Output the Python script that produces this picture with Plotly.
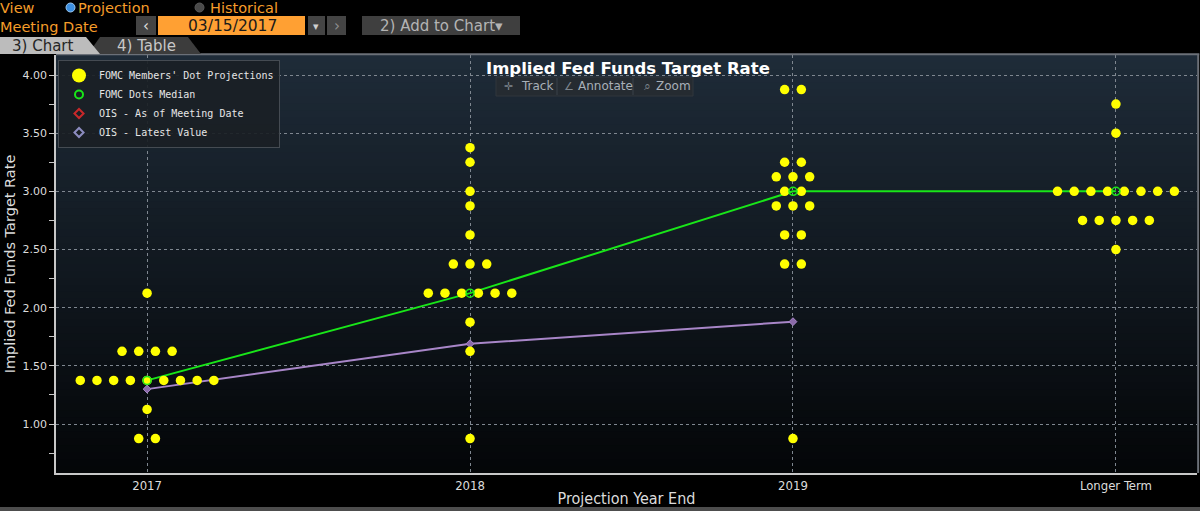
import numpy as np
import plotly.graph_objects as go

# ---------------- data ----------------
categories = ["2017", "2018", "2019", "Longer Term"]
dots_2017 = [2.125, 1.625, 1.625, 1.625, 1.625,
             1.375, 1.375, 1.375, 1.375, 1.375, 1.375, 1.375, 1.375, 1.375,
             1.125, 0.875, 0.875]
dots_2018 = [3.375, 3.25, 3.0, 2.875, 2.625, 2.375, 2.375, 2.375,
             2.125, 2.125, 2.125, 2.125, 2.125, 2.125, 1.875, 1.625, 0.875]
dots_2019 = [3.875, 3.875, 3.25, 3.25, 3.125, 3.125, 3.125, 3.0, 3.0,
             2.875, 2.875, 2.875, 2.625, 2.625, 2.375, 2.375, 0.875]
dots_lt = [3.75, 3.5, 3.0, 3.0, 3.0, 3.0, 3.0, 3.0, 3.0, 3.0,
           2.75, 2.75, 2.75, 2.75, 2.75, 2.5]
median_values = [1.375, 2.125, 3.0, 3.0]
ois_latest = [1.30, 1.69, 1.88]
ois_meeting = [None]      # not drawn in the reference (legend entry only)
y_tick_vals = [1.0, 1.5, 2.0, 2.5, 3.0, 3.5, 4.0]
y_tick_text = ["1.00", "1.50", "2.00", "2.50", "3.00", "3.50", "4.00"]

# ---------------- layout helpers ----------------
W, H = 1200, 511
ML, MR, MT, MB = 56, 3, 55, 38
PW, PH = W - ML - MR, H - MT - MB


def px(x):
    return (x - ML) / PW


def py(y):
    return (H - MB - y) / PH


STEP = 0.0517  # horizontal spacing between stacked dots (x units)


def dot_positions(idx, values):
    xs, ys = [], []
    uniq = sorted(set(values), reverse=True)
    for v in uniq:
        n = values.count(v)
        for k in range(n):
            xs.append(idx + (k - (n - 1) / 2) * STEP)
            ys.append(v)
    return xs, ys


all_x, all_y = [], []
for i, vals in enumerate([dots_2017, dots_2018, dots_2019, dots_lt]):
    xs, ys = dot_positions(i, vals)
    all_x += xs
    all_y += ys

cat_idx = list(range(len(categories)))

YELLOW = "#ffff00"
GREEN = "#19e619"
PURPLE = "#a886c8"
RED = "#c8282a"
ORANGE = "#f59d2a"

fig = go.Figure()

fig.add_trace(go.Scatter(x=cat_idx, y=median_values, mode="lines",
                         line=dict(color=GREEN, width=2),
                         showlegend=False, hoverinfo="skip"))
fig.add_trace(go.Scatter(x=cat_idx[:len(ois_latest)], y=ois_latest,
                         mode="lines+markers",
                         line=dict(color=PURPLE, width=2),
                         marker=dict(symbol="diamond", size=6, color="#8a6aa8",
                                     line=dict(color=PURPLE, width=1)),
                         showlegend=False, name="OIS - Latest Value"))
fig.add_trace(go.Scatter(x=all_x, y=all_y, mode="markers",
                         marker=dict(color=YELLOW, size=9.5, line=dict(width=0)),
                         showlegend=False, name="FOMC Members' Dot Projections"))
fig.add_trace(go.Scatter(x=cat_idx, y=median_values, mode="markers",
                         marker=dict(symbol="circle-open", size=8, color=GREEN,
                                     line=dict(width=1.5)),
                         showlegend=False, name="FOMC Dots Median"))

# legend entries
fig.add_trace(go.Scatter(x=[None], y=[None], mode="markers",
                         name="FOMC Members' Dot Projections",
                         marker=dict(color=YELLOW, size=14)))
fig.add_trace(go.Scatter(x=[None], y=[None], mode="markers",
                         name="FOMC Dots Median",
                         marker=dict(symbol="circle-open", color=GREEN, size=8,
                                     line=dict(width=2))))
fig.add_trace(go.Scatter(x=ois_meeting, y=ois_meeting, mode="markers",
                         name="OIS - As of Meeting Date",
                         marker=dict(symbol="diamond-open", color=RED, size=7,
                                     line=dict(width=2))))
fig.add_trace(go.Scatter(x=[None], y=[None], mode="markers",
                         name="OIS - Latest Value",
                         marker=dict(symbol="diamond-open", color="#8c8cc0", size=7,
                                     line=dict(width=2))))

shapes = []
# gradient background of plot area (overlapping bands to avoid seams)
NB = 60
top_c = np.array([31, 44, 57])
bot_c = np.array([4, 6, 8])
for b in range(NB):
    t = (b + 0.5) / NB
    c = top_c * (1 - t) + bot_c * t
    shapes.append(dict(type="rect", xref="paper", yref="paper",
                       x0=0, x1=1, y0=max(0, 1 - (b + 1) / NB - 0.006), y1=1 - b / NB,
                       fillcolor="rgb(%d,%d,%d)" % tuple(c.astype(int)),
                       line=dict(width=0), layer="below"))
shapes.append(dict(type="line", xref="paper", yref="paper", x0=0, x1=1.002,
                   y0=1.002, y1=1.002, line=dict(color="#6b7078", width=2)))
shapes.append(dict(type="line", xref="paper", yref="paper", x0=1.001, x1=1.001,
                   y0=0, y1=1.002, line=dict(color="#6b7078", width=2)))
shapes.append(dict(type="rect", xref="paper", yref="paper", x0=px(0), x1=px(W),
                   y0=py(511), y1=py(507), fillcolor="#4d4d4d", line=dict(width=0)))

# top controls
shapes.append(dict(type="circle", xref="paper", yref="paper",
                   x0=px(66), x1=px(75), y0=py(12), y1=py(3),
                   fillcolor="#3d8fe0", line=dict(color="#9cc8f0", width=1)))
shapes.append(dict(type="circle", xref="paper", yref="paper",
                   x0=px(195), x1=px(204), y0=py(12), y1=py(3),
                   fillcolor="#4a4a4a", line=dict(color="#5a5a5a", width=1)))
for x0, x1, col in [(136, 156, "#444444"), (158, 305, "#ffa033"),
                    (308, 325, "#444444"), (327, 346, "#444444"),
                    (362, 520, "#3f3f3f")]:
    shapes.append(dict(type="rect", xref="paper", yref="paper",
                       x0=px(x0), x1=px(x1), y0=py(35), y1=py(16),
                       fillcolor=col, line=dict(width=0)))


def path(pts):
    return "M " + " L ".join("%f,%f" % (px(a), py(b)) for a, b in pts) + " Z"


shapes.append(dict(type="path", xref="paper", yref="paper",
                   path=path([(88, 54), (100, 37), (188, 37), (201, 54)]),
                   fillcolor="#3c3c3c", line=dict(width=0)))
shapes.append(dict(type="path", xref="paper", yref="paper",
                   path=path([(0, 54), (0, 37), (86, 37), (100, 54)]),
                   fillcolor="#bcbcbc", line=dict(width=0)))
shapes.append(dict(type="rect", xref="paper", yref="paper",
                   x0=px(496), x1=px(693), y0=py(96), y1=py(77),
                   fillcolor="#252b31", line=dict(color="#30363c", width=1)))
for xd in (557, 633):
    shapes.append(dict(type="line", xref="paper", yref="paper",
                       x0=px(xd), x1=px(xd), y0=py(95), y1=py(78),
                       line=dict(color="#3b424a", width=1)))

UI_FONT = "DejaVu Sans"
annotations = []


def txt(x, y, s, size, color, anchor="left", bold=False, family=UI_FONT):
    annotations.append(dict(xref="paper", yref="paper", x=px(x), y=py(y),
                            text=("<b>%s</b>" % s) if bold else s,
                            showarrow=False, xanchor=anchor, yanchor="middle",
                            borderpad=0,
                            font=dict(family=family, size=size, color=color)))


txt(-1, 8, "View", 14.5, ORANGE)
txt(77, 8, "Projection", 14.5, ORANGE)
txt(209, 8, "Historical", 14.5, ORANGE)
txt(-1, 27, "Meeting Date", 14.5, ORANGE)
txt(146, 26, "‹", 15, "#e0e0e0", anchor="center")
txt(232, 26, "03/15/2017", 15.5, "#1a1a1a", anchor="center")
txt(316, 26, "▾", 11, "#d0d0d0", anchor="center")
txt(337, 26, "›", 15, "#909090", anchor="center")
txt(441, 26, "2) Add to Chart▾", 15, "#b4b4b4", anchor="center")
txt(43, 46, "3) Chart", 15, "#262626", anchor="center")
txt(146, 46, "4) Table", 15, "#c8c8c8", anchor="center")
txt(628, 69, "Implied Fed Funds Target Rate", 16.5, "#ffffff", anchor="center", bold=True)
txt(508, 86, "✛", 11, "#7d858d", anchor="center")
txt(537, 86, "Track", 12, "#a8b0b8", anchor="center")
txt(569, 86, "∠", 11, "#7d858d", anchor="center")
txt(605, 86, "Annotate", 12, "#a8b0b8", anchor="center")
txt(647, 86, "⌕", 12, "#7d858d", anchor="center")
txt(673, 86, "Zoom", 12, "#a8b0b8", anchor="center")

GRID = "#7f8790"
COND = "DejaVu Sans Condensed, DejaVu Sans"
fig.update_layout(
    width=W, height=H,
    margin=dict(l=ML, r=MR, t=MT, b=MB, autoexpand=False),
    paper_bgcolor="#000000",
    plot_bgcolor="rgba(0,0,0,0)",
    shapes=shapes,
    annotations=annotations,
    showlegend=True,
    legend=dict(x=px(58), y=py(60), xanchor="left", yanchor="top",
                bgcolor="rgba(26,31,37,0.92)", bordercolor="#454b52", borderwidth=1,
                font=dict(family="DejaVu Sans Mono", size=10, color="#e6e6e6"),
                itemsizing="trace", tracegroupgap=0),
    xaxis=dict(range=[-0.282, 3.251], tickmode="array", tickvals=cat_idx,
               ticktext=categories, showgrid=True, gridcolor=GRID, griddash="dot",
               gridwidth=1, zeroline=False, showline=True, linecolor="#c8c8c8",
               linewidth=1.5, ticks="",
               tickfont=dict(family=COND, size=13, color="#dcdcdc"),
               title=dict(text="Projection Year End", standoff=0,
                          font=dict(family=COND, size=16, color="#dcdcdc")),
               automargin=False, fixedrange=True),
    yaxis=dict(range=[0.579, 4.172], tickmode="array", tickvals=y_tick_vals,
               ticktext=y_tick_text, showgrid=True, gridcolor=GRID, griddash="dot",
               gridwidth=1, zeroline=False, showline=True, linecolor="#c8c8c8",
               linewidth=1.5, ticks="outside", ticklen=5, tickcolor="#c8c8c8",
               minor=dict(dtick=0.25, ticks="outside", ticklen=5, tickcolor="#c8c8c8",
                          showgrid=False),
               tickfont=dict(family="DejaVu Sans", size=11, color="#dcdcdc"),
               title=dict(text="Implied Fed Funds Target Rate", standoff=3,
                          font=dict(family="DejaVu Sans", size=14.5, color="#dcdcdc")),
               automargin=False, fixedrange=True),
)

fig.write_html("out.html", config={"displayModeBar": False},
               post_script="document.body.style.margin='0';document.body.style.background='#000';")
